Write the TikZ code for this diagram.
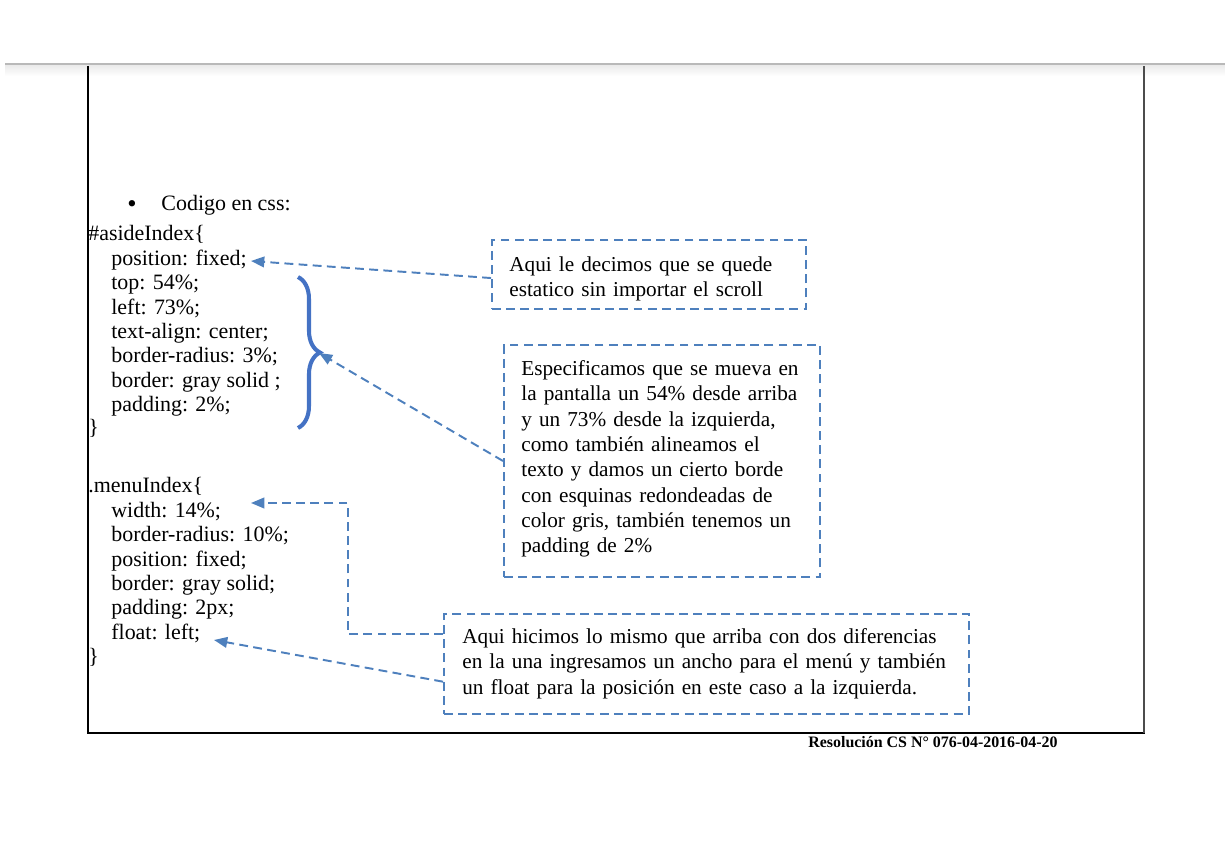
\documentclass[tikz,border=0pt]{standalone}
\usepackage{fontspec}
\setmainfont{Liberation Serif}
\usepackage{tikz}
\usetikzlibrary{arrows.meta,fit,decorations.pathreplacing}
\definecolor{notecol}{RGB}{78,128,189}
\definecolor{bracecol}{RGB}{68,114,196}

\begin{document}
\begin{tikzpicture}[x=0.565pt, y=-0.565pt,
  codeline/.style={anchor=base west, inner sep=0pt, font=\fontsize{12.4}{14}\selectfont},
  notebox/.style={draw=notecol, line width=1.1pt, dash pattern=on 5pt off 3pt, inner sep=0pt},
  notetext/.style={anchor=base west, inner sep=0pt, align=left, font=\fontsize{12}{14.3}\selectfont},
  note/.style={draw=notecol, line width=1.1pt, dash pattern=on 5pt off 3pt, -{Triangle[length=7.5pt,width=6pt]}}]
  \useasboundingbox (0,0) rectangle (1225,842);
  % page edge and frame
  \fill[gray!55] (5,63) rectangle (1225,66);
  \shade[top color=gray!15, bottom color=white] (5,66) rectangle (1225,76);
  \draw[line width=0.6pt] (88,66) -- (88,733) -- (1145,733);
  \draw[gray!60!black, line width=1.1pt] (1144,66) -- (1144,733);

  % css code
  \node[codeline] (cssItem) at (127,211) {{\fontsize{15}{15}\selectfont\raisebox{-1pt}{\textbullet}}\hspace{14pt}Codigo en css:};
  \node[codeline] (aside0) at (88,241) {\#asideIndex\{};
  \foreach \prop [count=\i] in {position: fixed;, top: 54\%;, left: 73\%;, text-align: center;, border-radius: 3\%;, border: gray solid ;, padding: 2\%;}
    \node[codeline] (aside\i) at (111,{241+24.35*\i}) {\prop};
  \node[codeline] (asideEnd) at (88,435) {\}};
  \node[codeline] (menu0) at (88,493) {.menuIndex\{};
  \foreach \prop [count=\i] in {width: 14\%;, border-radius: 10\%;, position: fixed;, border: gray solid;, padding: 2px;, float: left;}
    \node[codeline] (menu\i) at (111,{493+24.35*\i}) {\prop};
  \node[codeline] (menuEnd) at (88,663) {\}};

  % brace over top .. padding
  \draw[bracecol, line width=2.3pt, decorate, decoration={brace, amplitude=12.4pt}] (298,277) -- (298,428);

  % notes
  \node[notebox, fit={(492,240) (806,309)}] (aquiBox) {};
  \node[notetext, text width=160pt] (aquiText) at (509,271.5) {Aqui le decimos que se quede\\estatico sin importar el scroll};
  \node[notebox, fit={(504,345) (820,577)}] (especBox) {};
  \node[notetext, text width=170pt] (especText) at (521,375.5) {Especificamos que se mueva en\\la pantalla un 54\% desde arriba\\y un 73\% desde la izquierda,\\como también alineamos el\\texto y damos un cierto borde\\con esquinas redondeadas de\\color gris, también tenemos un\\padding de 2\%};
  \node[notebox, fit={(444,614) (969,714)}] (menuBox) {};
  \node[notetext, text width=290pt] (menuText) at (462,643.5) {Aqui hicimos lo mismo que arriba con dos diferencias\\en la una ingresamos un ancho para el menú y también\\un float para la posición en este caso a la izquierda.};

  % arrows
  \coordinate (fixedTip) at (251,261);
  \coordinate (braceTip) at (319,353);
  \coordinate (widthTip) at (251,503);
  \coordinate (widthElbow) at (348,634);
  \coordinate (floatTip) at (214,640);
  \draw[note] ([yshift=-2pt]aquiBox.west) -- (fixedTip);
  \draw[note] (especBox.west) -- (braceTip);
  \draw[note] (menuBox.west |- widthElbow) -- (widthElbow) |- (widthTip);
  \draw[note] ([yshift=-10pt]menuBox.west) -- (floatTip);

  \node[anchor=base west, inner sep=0pt, font=\bfseries\fontsize{9}{10}\selectfont] (resolucion) at (808,747) {Resolución CS N° 076-04-2016-04-20};
\end{tikzpicture}
\end{document}
